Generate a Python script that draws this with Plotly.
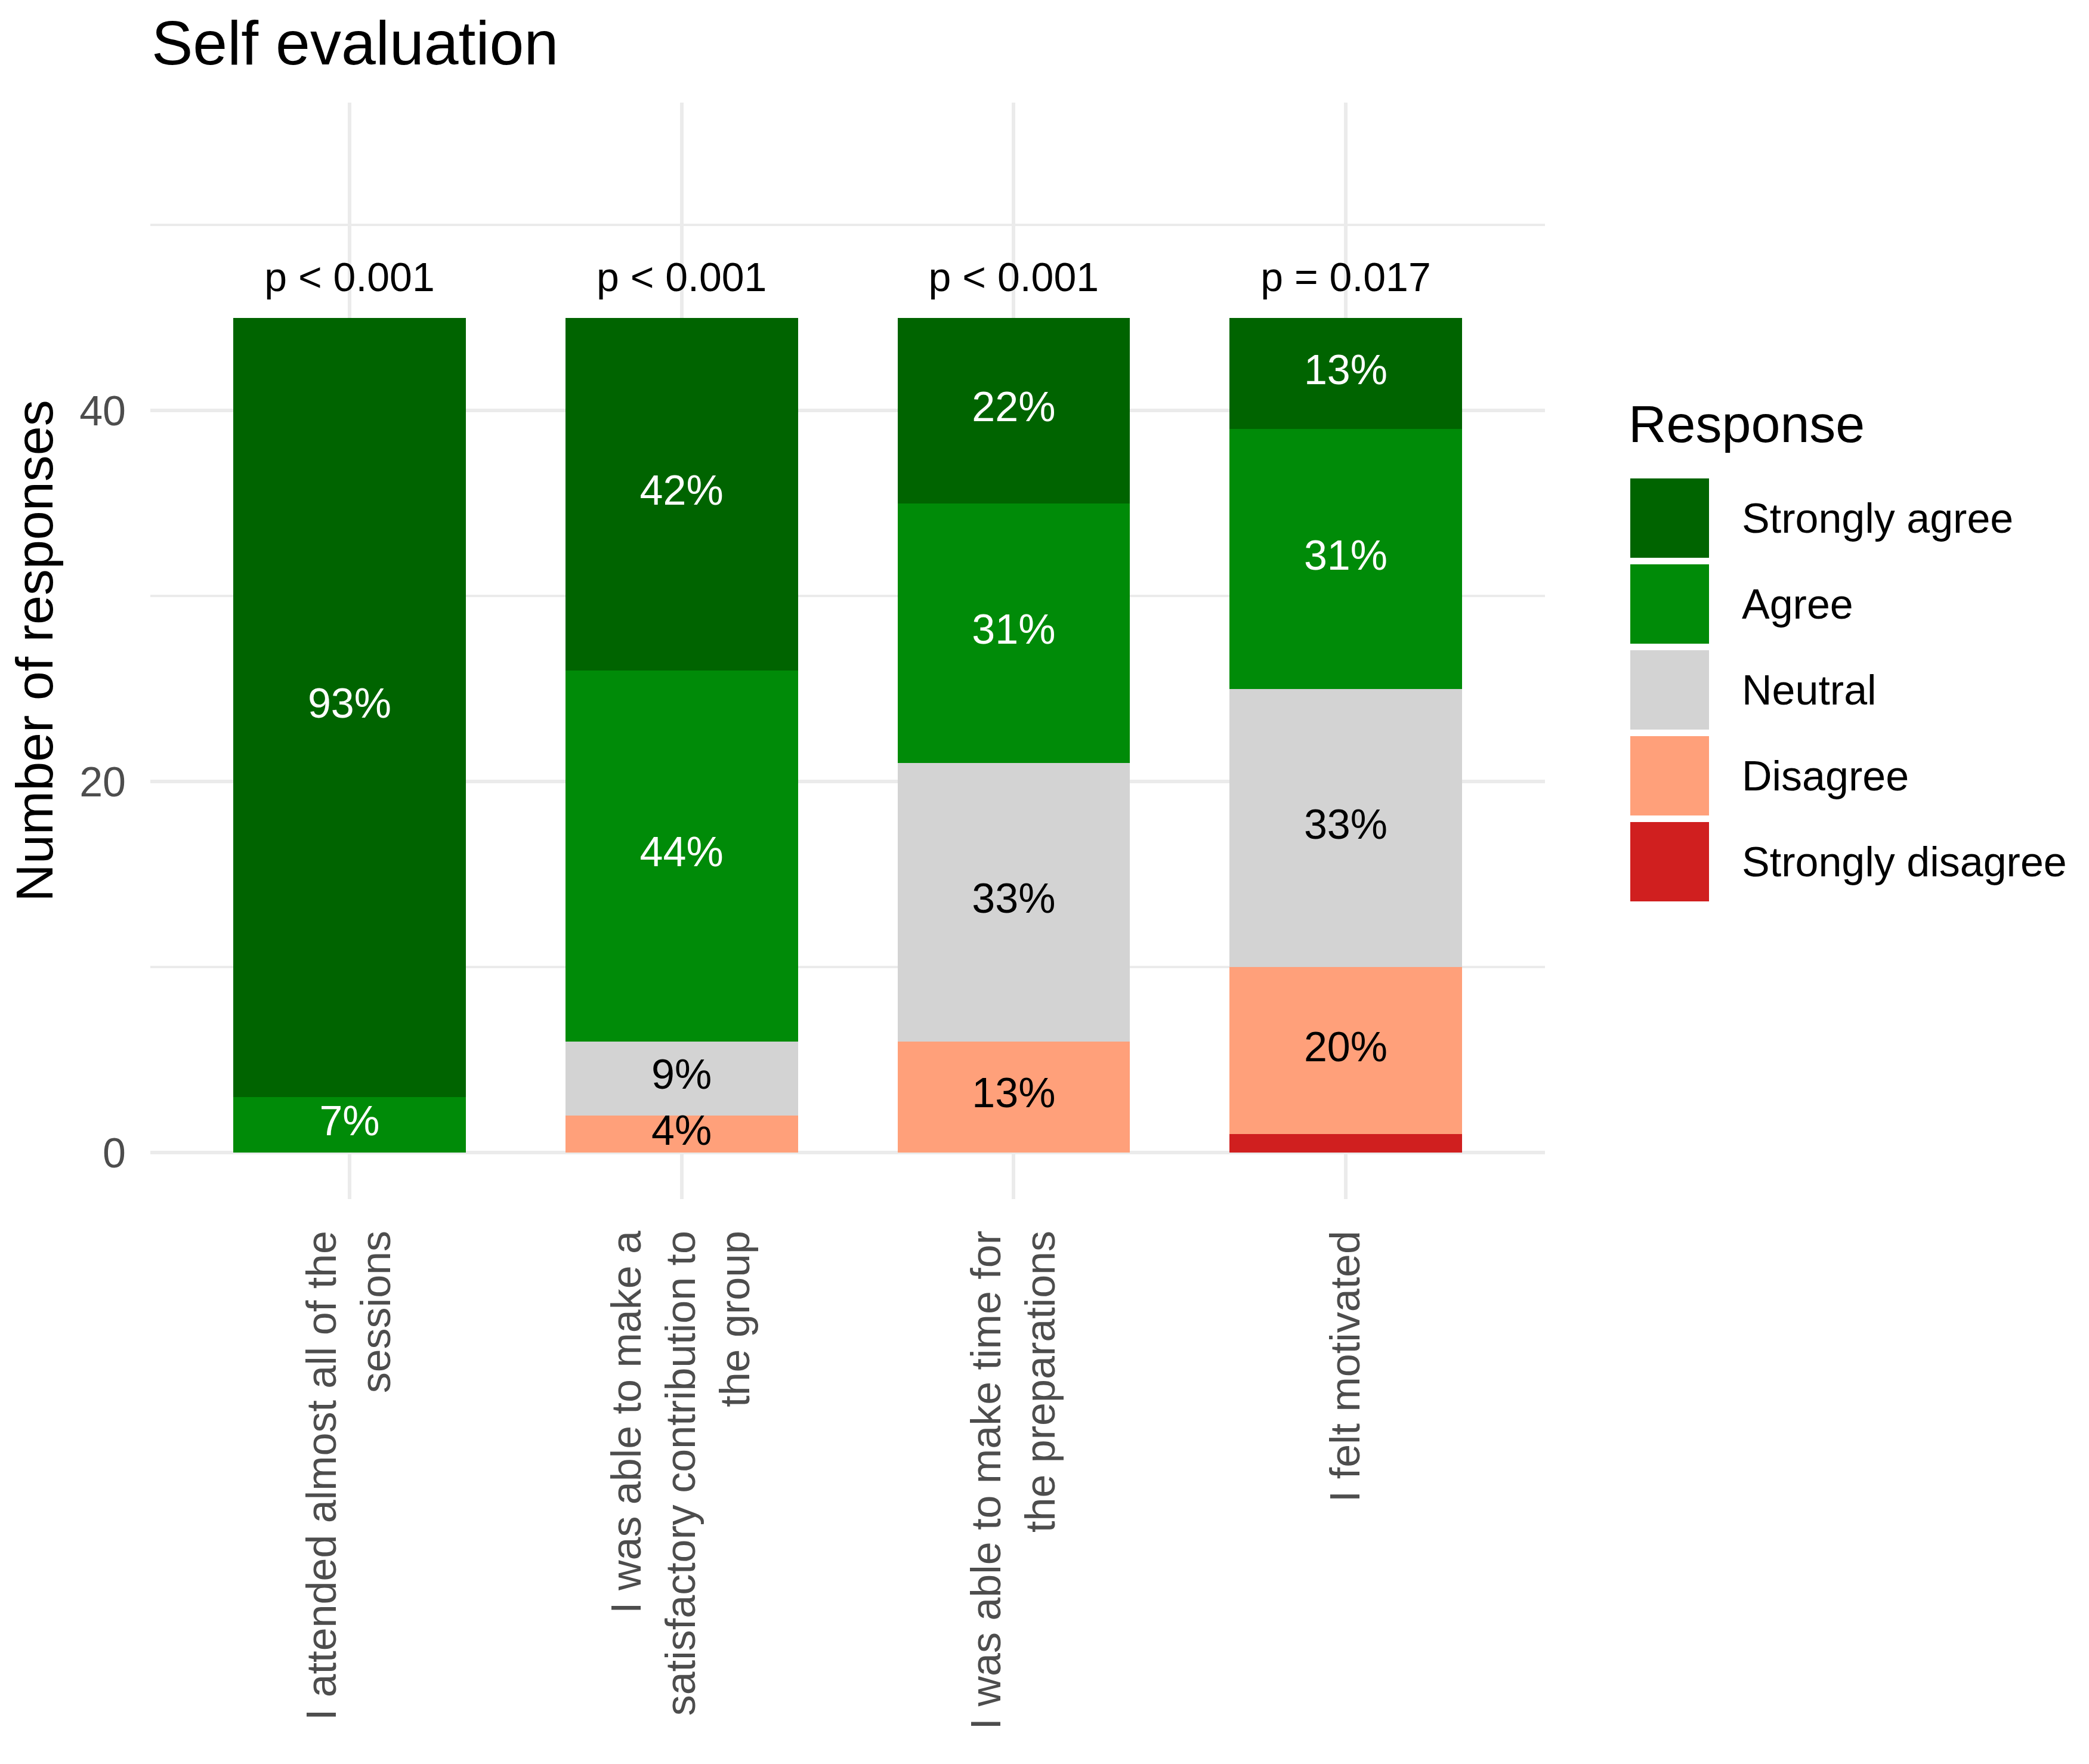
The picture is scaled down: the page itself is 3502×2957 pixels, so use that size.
import plotly.graph_objects as go

# questions (x categories), wrapped like the original
questions = [
    "I attended almost all of the<br>sessions",
    "I was able to make a<br>satisfactory contribution to<br>the group",
    "I was able to make time for<br>the preparations",
    "I felt motivated",
]

# counts per response, stacked bottom -> top
strongly_disagree = [0, 0, 0, 1]
disagree = [0, 2, 6, 9]
neutral = [0, 4, 15, 15]
agree = [3, 20, 14, 14]
strongly_agree = [42, 19, 10, 6]

# percent labels as printed on the bars
pct_strongly_disagree = ["", "", "", ""]
pct_disagree = ["", "4%", "13%", "20%"]
pct_neutral = ["", "9%", "33%", "33%"]
pct_agree = ["7%", "44%", "31%", "31%"]
pct_strongly_agree = ["93%", "42%", "22%", "13%"]

p_labels = ["p < 0.001", "p < 0.001", "p < 0.001", "p = 0.017"]

responses = ["Strongly disagree", "Disagree", "Neutral", "Agree", "Strongly agree"]
colors = ["#D01F1F", "#FFA07A", "#D3D3D3", "#008B08", "#006400"]
label_colors = ["white", "black", "black", "white", "white"]

counts = [strongly_disagree, disagree, neutral, agree, strongly_agree]
pcts = [pct_strongly_disagree, pct_disagree, pct_neutral, pct_agree, pct_strongly_agree]

FONT = "Liberation Sans, Arial, sans-serif"
W, H = 3502, 2957
OFF = 8  # page body margin
PL, PR, PT, PB = 252 - OFF, 2590 - OFF, 172 - OFF, 2010 - OFF


def px_x(px):
    return (px - OFF - PL) / (PR - PL)


def px_y(py):
    return (PB - (py - OFF)) / (PB - PT)


fig = go.Figure()

for name, vals, col in zip(responses, counts, colors):
    fig.add_trace(go.Bar(x=questions, y=vals, name=name, marker_color=col,
                         marker_line_width=0, width=0.7, showlegend=False,
                         hoverinfo="x+y+name"))

# percent labels centred in each segment
base = [0] * len(questions)
for vals, labs, tcol in zip(counts, pcts, label_colors):
    mids = [b + v / 2 for b, v in zip(base, vals)]
    fig.add_trace(go.Scatter(x=questions, y=mids, mode="text", text=labs,
                             textposition="middle center",
                             textfont=dict(family=FONT, size=70, color=tcol),
                             showlegend=False, hoverinfo="skip"))
    base = [b + v for b, v in zip(base, vals)]

# p-values above the bars
fig.add_trace(go.Scatter(x=questions, y=[b + 2.0 for b in base], mode="text",
                         text=p_labels, textposition="middle center",
                         textfont=dict(family=FONT, size=68, color="black"),
                         showlegend=False, hoverinfo="skip"))

# legend drawn by hand to get the big ggplot-like keys
shapes = []
annotations = [dict(text="Response", xref="paper", yref="paper",
                    x=px_x(2728), y=px_y(710), xanchor="left", yanchor="middle",
                    showarrow=False, font=dict(family=FONT, size=88, color="black"))]
for i, (name, col) in enumerate(zip(responses[::-1], colors[::-1])):
    top = 802 + 144 * i
    shapes.append(dict(type="rect", xref="paper", yref="paper",
                       x0=px_x(2733), x1=px_x(2865), y0=px_y(top + 133), y1=px_y(top),
                       fillcolor=col, line_width=0))
    annotations.append(dict(text=name, xref="paper", yref="paper",
                            x=px_x(2918), y=px_y(top + 67), xanchor="left", yanchor="middle",
                            showarrow=False, font=dict(family=FONT, size=70, color="black")))

fig.update_layout(
    width=W, height=H,
    barmode="stack",
    paper_bgcolor="white", plot_bgcolor="white",
    margin=dict(l=PL, r=W - PR, t=PT, b=H - PB),
    title=dict(text="Self evaluation", xref="container", x=(254 - OFF) / W, xanchor="left",
               yref="container", y=1 - 64 / H, yanchor="middle",
               font=dict(family=FONT, size=104, color="black")),
    shapes=shapes,
    annotations=annotations,
    showlegend=False,
)

fig.update_xaxes(
    type="category", range=[-0.6, 3.6],
    showgrid=True, gridcolor="#EBEBEB", gridwidth=6,
    showline=False, zeroline=False, ticks="",
    tickangle=-90, ticklabelstandoff=38,
    tickfont=dict(family=FONT, size=70, color="#4D4D4D"),
)

fig.update_yaxes(
    range=[-2.5, 56.6],
    tickvals=[0, 20, 40],
    showgrid=True, gridcolor="#EBEBEB", gridwidth=6,
    minor=dict(tickvals=[10, 30, 50], showgrid=True, gridcolor="#EBEBEB", gridwidth=3.5),
    showline=False, zeroline=False, ticks="",
    ticklabelstandoff=40,
    tickfont=dict(family=FONT, size=70, color="#4D4D4D"),
    title=dict(text="Number of responses", standoff=16,
               font=dict(family=FONT, size=88, color="black")),
)

fig.write_html("out.html")
